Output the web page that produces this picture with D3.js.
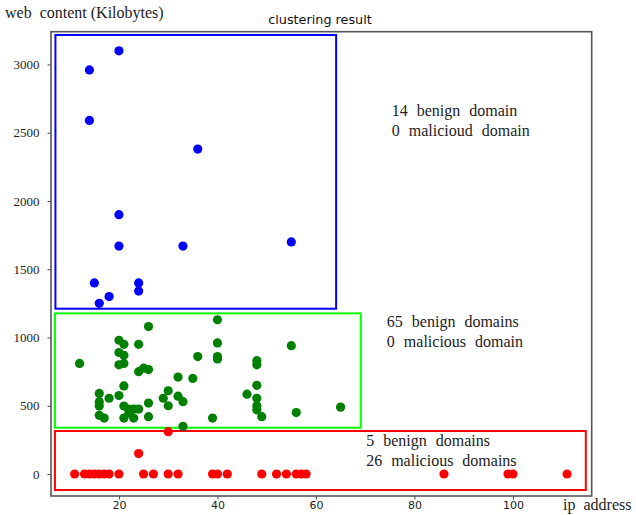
<!DOCTYPE html>
<html>
<head>
<meta charset="utf-8">
<script src="https://cdn.jsdelivr.net/npm/d3@7"></script>
<title>clustering result</title>
<style>
    body { margin: 0; background: #fff; }
    svg { display: block; }
    .pre { white-space: pre; }
</style>
</head>
<body>
<div id="chart"></div>
<script>
// cluster 1: large web content (blue)
var blueX = [20, 14, 14, 36, 20, 20, 33, 55, 15, 24, 24, 18, 16];
var blueY = [3100, 2960, 2590, 2380, 1900, 1670, 1670, 1700, 1400, 1400, 1340, 1300, 1250];

// cluster 2: medium web content (green)
var greenX = [40, 26, 20, 21, 24, 40, 55, 20, 21, 20, 21, 12, 36, 40, 40, 48, 48, 24, 25, 26,
              32, 35, 21, 48, 16, 20, 18, 30, 29, 32, 33, 30, 46, 48, 48, 48, 49, 16, 16, 16,
              17, 21, 22, 23, 24, 21, 23, 22, 26, 26, 39, 56, 65, 33];
var greenY = [1130, 1080, 980, 950, 950, 960, 940, 890, 870, 800, 810, 810, 860, 860, 843, 830, 800, 750, 775, 765,
              710, 700, 645, 650, 590, 575, 555, 610, 555, 570, 530, 500, 585, 555, 500, 470, 420, 530, 498, 430,
              410, 498, 475, 476, 476, 410, 410, 445, 520, 420, 410, 450, 490, 350];

// cluster 3: small web content (red)
var redX = [11, 13, 14, 15, 16, 17, 18, 20, 25, 27, 30, 32, 39, 40, 42, 49, 52, 54, 56, 57, 58, 86, 99, 100, 111, 24, 30];
var redY = [0, 0, 0, 0, 0, 0, 0, 0, 0, 0, 0, 0, 0, 0, 0, 0, 0, 0, 0, 0, 0, 0, 0, 0, 0, 150, 310];

// cluster boxes [x0, x1, y0, y1] in data units
var boxNames = ['blue', 'green', 'red'];
var boxX0 = [7.1, 7.0, 7.0];
var boxX1 = [64.1, 69.1, 114.8];
var boxY0 = [1211, 339, -117];
var boxY1 = [3216, 1177, 315];

var annoLines = [
    ['14 benign domain', '0 malicioud domain'],
    ['65 benign domains', '0 malicious domain'],
    ['5 benign domains', '26 malicious domains']
];
var annoX = [75.4, 74.4, 70.2];
var annoY = [2623, 1076, 205];

var xTicks = [20, 40, 60, 80, 100];
var yTicks = [0, 500, 1000, 1500, 2000, 2500, 3000];

var width = 636, height = 515;
var margin = {top: 31.7, right: 44.3, bottom: 19, left: 51};

var svg = d3.select('#chart').append('svg')
    .attr('width', width)
    .attr('height', height);

var x = d3.scaleLinear().domain([6.2, 116]).range([margin.left, width - margin.right]);
var y = d3.scaleLinear().domain([-161, 3240]).range([height - margin.bottom, margin.top]);

// axes
var xAxis = svg.append('g')
    .attr('transform', 'translate(0,' + (height - margin.bottom) + ')')
    .call(d3.axisBottom(x).tickValues(xTicks).tickSize(3.5).tickPadding(2).tickSizeOuter(0));
xAxis.selectAll('text')
    .attr('font-family', 'DejaVu Sans, sans-serif')
    .attr('font-size', 11)
    .attr('fill', '#222');

var yAxis = svg.append('g')
    .attr('transform', 'translate(' + margin.left + ',0)')
    .call(d3.axisLeft(y).tickValues(yTicks).tickFormat(d3.format('d'))
        .tickSize(3.5).tickPadding(8).tickSizeOuter(0));
yAxis.selectAll('text')
    .attr('font-family', 'Liberation Serif, serif')
    .attr('font-size', 13)
    .attr('fill', '#222');

svg.selectAll('.domain').remove();
svg.selectAll('.tick line').attr('stroke', '#444');

// frame
svg.append('rect')
    .attr('x', margin.left)
    .attr('y', margin.top)
    .attr('width', width - margin.right - margin.left)
    .attr('height', height - margin.bottom - margin.top)
    .attr('fill', 'none')
    .attr('stroke', '#555')
    .attr('stroke-width', 1.6);

// cluster boxes
var boxColors = {blue: '#0000ff', green: '#00ff00', red: '#ff0000'};
svg.selectAll('.box')
    .data(boxNames)
    .enter().append('rect')
    .attr('class', 'box')
    .attr('x', function(d, i) { return x(boxX0[i]); })
    .attr('y', function(d, i) { return y(boxY1[i]); })
    .attr('width', function(d, i) { return x(boxX1[i]) - x(boxX0[i]); })
    .attr('height', function(d, i) { return y(boxY0[i]) - y(boxY1[i]); })
    .attr('fill', 'none')
    .attr('stroke', function(d) { return boxColors[d]; })
    .attr('stroke-width', 2);

// points
function drawPoints(xs, ys, color) {
    svg.append('g').selectAll('circle')
        .data(xs)
        .enter().append('circle')
        .attr('cx', function(d) { return x(d); })
        .attr('cy', function(d, i) { return y(ys[i]); })
        .attr('r', 4.6)
        .attr('fill', color);
}
drawPoints(blueX, blueY, '#0000ff');
drawPoints(greenX, greenY, '#008000');
drawPoints(redX, redY, '#ff0000');

// annotations
annoLines.forEach(function(lines, i) {
    var t = svg.append('text')
        .attr('font-family', 'Liberation Serif, serif')
        .attr('font-size', 16)
        .attr('word-spacing', 5)
        .attr('fill', '#222');
    lines.forEach(function(line, j) {
        t.append('tspan')
            .attr('x', x(annoX[i]))
            .attr('y', y(annoY[i]) + j * 20)
            .text(line);
    });
});

// titles
svg.append('text')
    .attr('x', 320)
    .attr('y', 24)
    .attr('text-anchor', 'middle')
    .attr('font-family', 'DejaVu Sans, sans-serif')
    .attr('font-size', 12.8)
    .attr('fill', '#111')
    .text('clustering result');

svg.append('text')
    .attr('class', 'pre')
    .attr('x', 5)
    .attr('y', 18)
    .attr('font-family', 'Liberation Serif, serif')
    .attr('font-size', 16)
    .attr('fill', '#222')
    .text('web  content (Kilobytes)');

svg.append('text')
    .attr('x', 563)
    .attr('y', 510)
    .attr('font-family', 'Liberation Serif, serif')
    .attr('font-size', 16)
    .attr('word-spacing', 4)
    .attr('fill', '#222')
    .text('ip address');
</script>
</body>
</html>
